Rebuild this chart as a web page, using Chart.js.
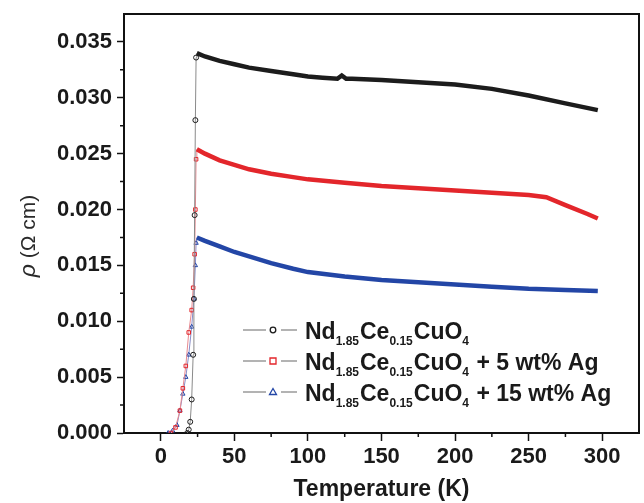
<!DOCTYPE html>
<html>
<head>
<meta charset="utf-8">
<script src="https://cdn.jsdelivr.net/npm/chart.js@4"></script>
<style>
  html, body { margin: 0; padding: 0; background: #fff; }
  #wrap { width: 644px; height: 503px; }
</style>
</head>
<body>
<div id="wrap"><canvas id="myChart" width="644" height="503"></canvas></div>
<script>
// temperature (K) and resistivity (ohm cm)
const T_pure = [18, 19, 20, 21, 22, 22.5, 23, 23.5, 24, 24.5, 30, 40, 50, 60, 75, 90, 100, 110, 120, 123, 126, 130, 150, 175, 200, 225, 250, 275, 297];
const rho_pure = [0.0000, 0.0003, 0.0010, 0.0030, 0.0070, 0.0120, 0.0195, 0.0280, 0.0336, 0.0340, 0.0337, 0.0333, 0.0330, 0.0327, 0.0324, 0.0321, 0.0319, 0.0318, 0.0317, 0.0320, 0.0317, 0.0317, 0.0316, 0.0314, 0.0312, 0.0308, 0.0302, 0.0295, 0.0289];

const T_ag5 = [7, 10, 13, 15, 17, 19, 21, 22, 23, 23.5, 24, 24.5, 30, 40, 50, 60, 75, 90, 100, 125, 150, 175, 200, 225, 250, 262, 275, 290, 297];
const rho_ag5 = [0.0000, 0.0005, 0.0020, 0.0040, 0.0060, 0.0090, 0.0110, 0.0130, 0.0160, 0.0200, 0.0245, 0.0254, 0.0250, 0.0244, 0.0240, 0.0236, 0.0232, 0.0229, 0.0227, 0.0224, 0.0221, 0.0219, 0.0217, 0.0215, 0.0213, 0.0211, 0.0204, 0.0196, 0.0192];

const T_ag15 = [5, 8, 11, 13, 15, 17, 19, 21, 22.5, 23.5, 24, 24.5, 30, 40, 50, 60, 75, 90, 100, 125, 150, 175, 200, 225, 250, 275, 297];
const rho_ag15 = [0.0000, 0.0002, 0.0007, 0.0020, 0.0035, 0.0050, 0.0070, 0.0095, 0.0120, 0.0150, 0.0170, 0.0175, 0.0172, 0.0167, 0.0162, 0.0158, 0.0152, 0.0147, 0.0144, 0.0140, 0.0137, 0.0135, 0.0133, 0.0131, 0.0129, 0.0128, 0.0127];

const xTicks = [0, 50, 100, 150, 200, 250, 300];
const yTicks = [0, 0.005, 0.010, 0.015, 0.020, 0.025, 0.030, 0.035];
const xMinor = [25, 75, 125, 175, 225, 275];
const yMinor = [0.0025, 0.0075, 0.0125, 0.0175, 0.0225, 0.0275, 0.0325];

const seriesNames = [
  ['Nd', '1.85', 'Ce', '0.15', 'CuO', '4', ''],
  ['Nd', '1.85', 'Ce', '0.15', 'CuO', '4', ' + 5 wt% Ag'],
  ['Nd', '1.85', 'Ce', '0.15', 'CuO', '4', ' + 15 wt% Ag']
];
const seriesColors = ['#1c1c1c', '#e3262b', '#2346a6'];
const thinColors = ['#8a8a8a', '#e88a90', '#8a8ec8'];
const markers = ['circle', 'rect', 'triangle'];
const Tc = 24.4;

function pts(xs, ys) {
  return xs.map((x, i) => ({x: x, y: ys[i]}));
}

function makeSet(xs, ys, k) {
  return {
    label: seriesNames[k].join(''),
    data: pts(xs, ys),
    showLine: true,
    borderColor: seriesColors[k],
    backgroundColor: 'rgba(255,255,255,0)',
    pointStyle: markers[k],
    pointBorderColor: seriesColors[k],
    pointBorderWidth: 1,
    pointRadius: ctx => (ctx.raw && ctx.raw.x < Tc) ? 2.5 : 0,
    segment: {
      borderWidth: ctx => ctx.p0.parsed.x >= Tc - 0.2 ? 4.5 : 1,
      borderColor: ctx => ctx.p0.parsed.x >= Tc - 0.2 ? seriesColors[k] : thinColors[k]
    },
    tension: 0
  };
}

const frameAndExtras = {
  id: 'frameAndExtras',
  afterDraw(chart) {
    const c = chart.ctx;
    const a = chart.chartArea;
    const xs = chart.scales.x, ys = chart.scales.y;
    c.save();
    // top and right frame
    c.strokeStyle = '#111';
    c.lineWidth = 2;
    c.beginPath();
    c.moveTo(a.left, a.top);
    c.lineTo(a.right, a.top);
    c.lineTo(a.right, a.bottom);
    c.stroke();
    // minor ticks
    c.lineWidth = 1.5;
    c.beginPath();
    xMinor.forEach(v => {
      const p = xs.getPixelForValue(v);
      c.moveTo(p, a.bottom);
      c.lineTo(p, a.bottom + 4);
    });
    yMinor.forEach(v => {
      const p = ys.getPixelForValue(v);
      c.moveTo(a.left, p);
      c.lineTo(a.left - 4, p);
    });
    c.stroke();

    // y title with italic rho
    c.translate(29, 236);
    c.rotate(-Math.PI / 2);
    c.fillStyle = '#2a2a2a';
    c.textBaseline = 'middle';
    c.font = 'italic 23px "Liberation Sans"';
    const w1 = c.measureText('ρ').width;
    c.font = '21px "Liberation Sans"';
    const w2 = c.measureText(' (Ω cm)').width;
    let x0 = -(w1 + w2) / 2;
    c.font = 'italic 23px "Liberation Sans"';
    c.fillText('ρ', x0, 0);
    c.font = '21px "Liberation Sans"';
    c.fillText(' (Ω cm)', x0 + w1, 0);
    c.restore();

    // legend with subscripts
    c.save();
    const rows = [339, 370, 401];
    rows.forEach((yy, k) => {
      const my = yy - 9;
      c.strokeStyle = '#9a9a9a';
      c.lineWidth = 1.5;
      c.beginPath();
      c.moveTo(243, my); c.lineTo(266, my);
      c.moveTo(281, my); c.lineTo(297, my);
      c.stroke();
      c.strokeStyle = seriesColors[k];
      c.lineWidth = 1.3;
      c.beginPath();
      if (k === 0) {
        c.arc(273, my, 2.8, 0, Math.PI * 2);
      } else if (k === 1) {
        c.rect(270, my - 3, 6, 6);
      } else {
        c.moveTo(273, my - 3.5); c.lineTo(276.5, my + 2.5); c.lineTo(269.5, my + 2.5); c.closePath();
      }
      c.stroke();

      c.fillStyle = '#1a1a1a';
      c.textBaseline = 'alphabetic';
      let x = 305;
      const parts = seriesNames[k];
      parts.forEach((s, i) => {
        const sub = (i === 1 || i === 3 || i === 5);
        c.font = sub ? 'bold 12px "Liberation Sans"' : 'bold 23px "Liberation Sans"';
        c.fillText(s, x, sub ? yy + 6 : yy);
        x += c.measureText(s).width + (sub ? 1 : 0);
      });
    });
    c.restore();
  }
};

const data = {
  datasets: [
    makeSet(T_pure, rho_pure, 0),
    makeSet(T_ag5, rho_ag5, 1),
    makeSet(T_ag15, rho_ag15, 2)
  ]
};

const config = {
  type: 'scatter',
  data: data,
  options: {
    responsive: false,
    animation: false,
    layout: { padding: { top: 14, right: 2, left: 0, bottom: 0 } },
    plugins: {
      legend: { display: false },
      tooltip: { enabled: false }
    },
    scales: {
      x: {
        type: 'linear',
        min: -25,
        max: 325,
        afterBuildTicks: s => { s.ticks = xTicks.map(v => ({value: v})); },
        afterFit: s => { s.height = 70; s.paddingLeft = 0; s.paddingRight = 0; },
        border: { display: true, color: '#111', width: 2 },
        grid: { drawOnChartArea: false, tickLength: 8, tickColor: '#111', tickWidth: 1.5 },
        ticks: {
          color: '#1a1a1a',
          padding: 3,
          font: { family: 'Liberation Sans', size: 22, weight: 'bold' },
          callback: v => String(v)
        },
        title: {
          display: true,
          text: 'Temperature (K)',
          color: '#1a1a1a',
          padding: { top: 0, bottom: 0 },
          font: { family: 'Liberation Sans', size: 23, weight: 'bold' }
        }
      },
      y: {
        type: 'linear',
        min: 0,
        max: 0.0375,
        afterBuildTicks: s => { s.ticks = yTicks.map(v => ({value: v})); },
        afterFit: s => { s.width = 124; s.paddingTop = 0; s.paddingBottom = 0; },
        border: { display: true, color: '#111', width: 2 },
        grid: { drawOnChartArea: false, tickLength: 7, tickColor: '#111', tickWidth: 1.5 },
        ticks: {
          color: '#1a1a1a',
          padding: 5,
          font: { family: 'Liberation Sans', size: 22, weight: 'bold' },
          callback: v => Number(v).toFixed(3)
        }
      }
    }
  },
  plugins: [frameAndExtras]
};

const myChart = new Chart(document.getElementById('myChart'), config);
</script>
</body>
</html>
